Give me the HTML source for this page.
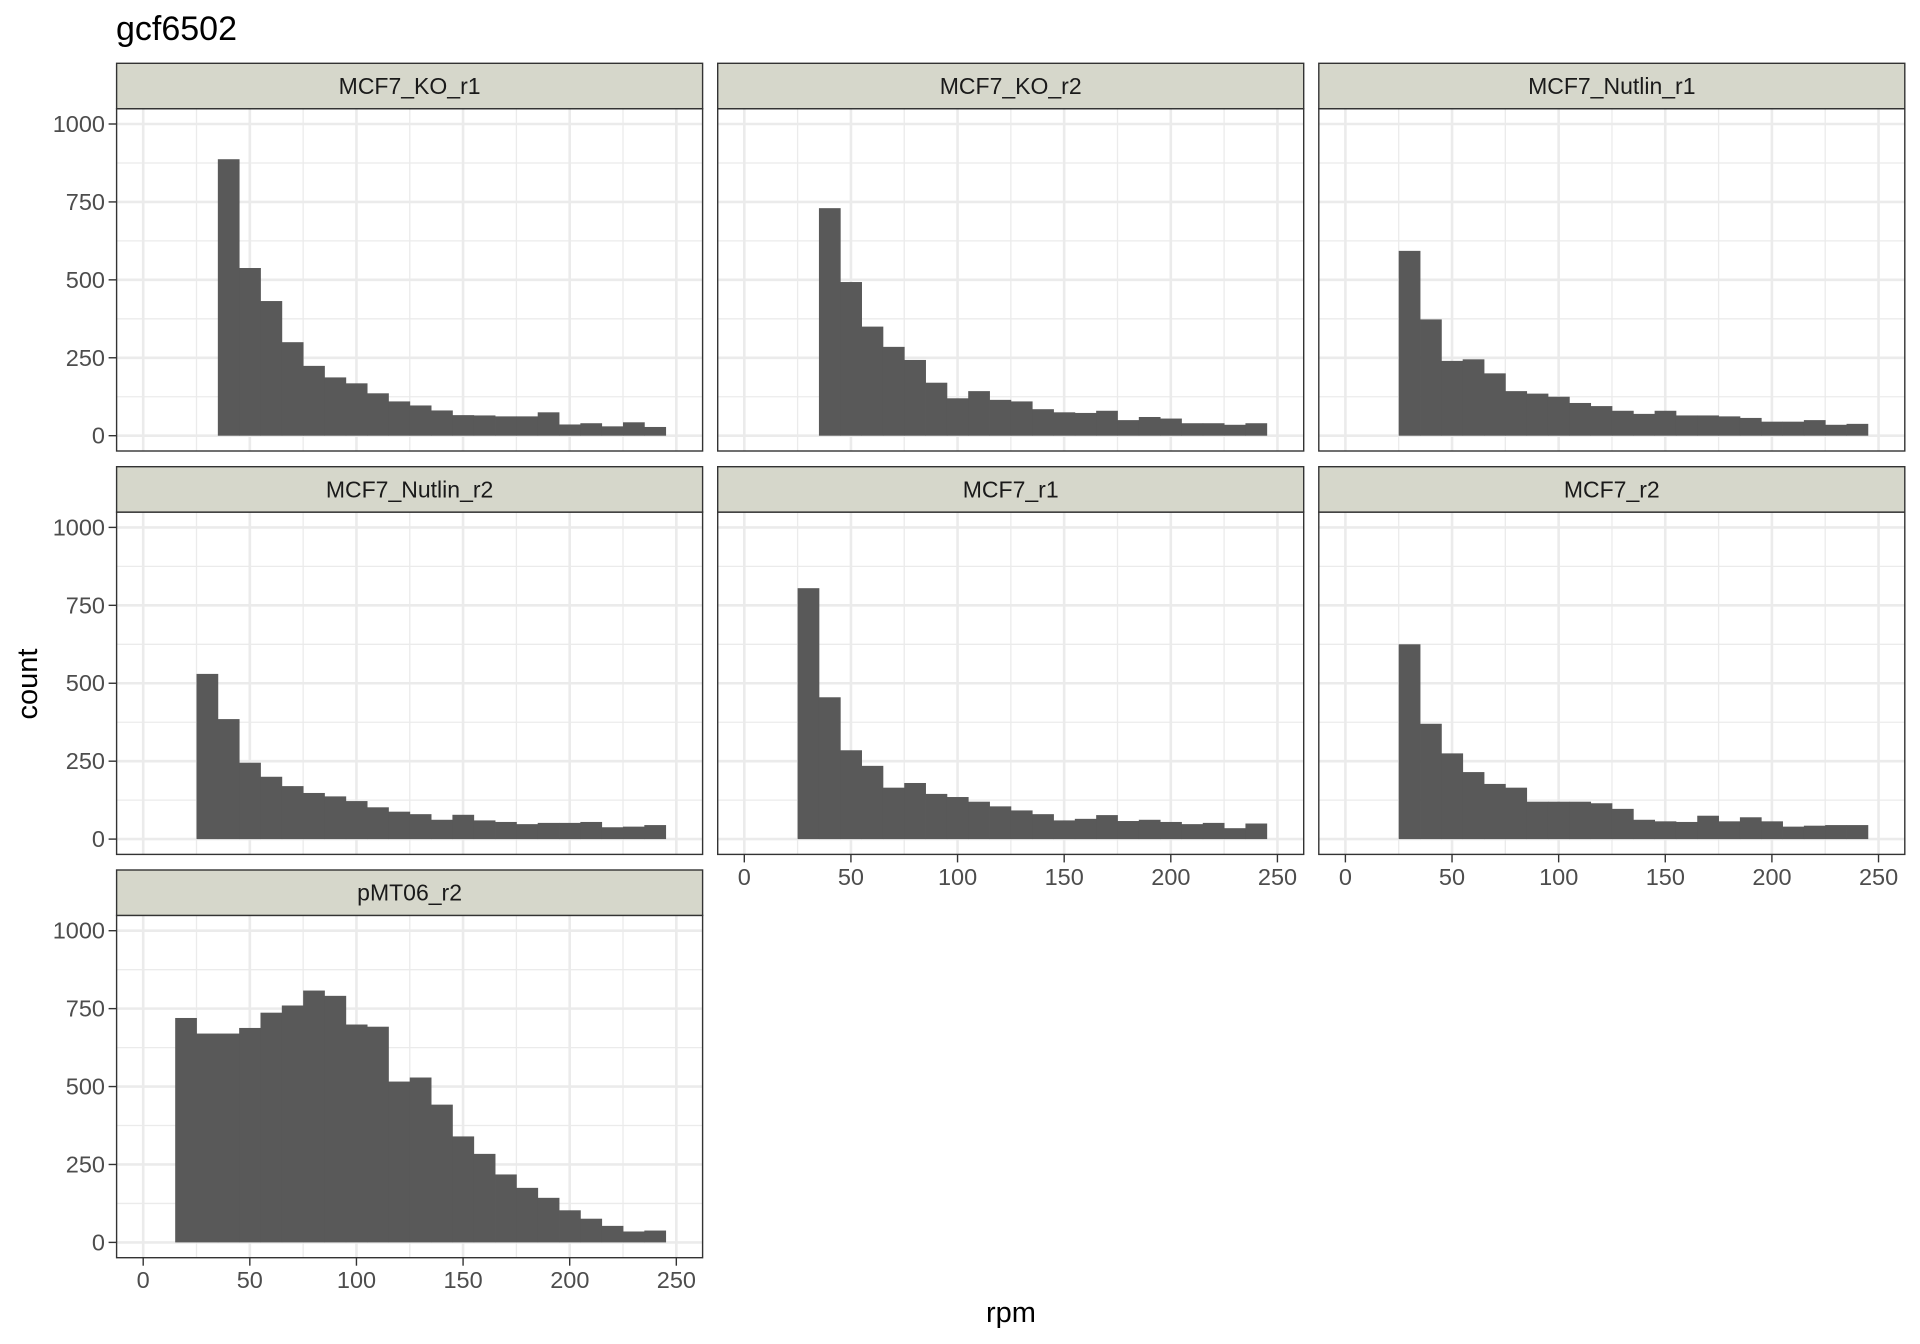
<!DOCTYPE html>
<html><head><meta charset="utf-8"><style>
html,body{margin:0;padding:0;background:#fff;}
svg{display:block;font-family:"Liberation Sans",sans-serif;}
.yl{font-size:23.5px;fill:#4D4D4D;text-anchor:end;dominant-baseline:central;}
.xl{font-size:23.5px;fill:#4D4D4D;text-anchor:middle;}
.st{font-size:23px;fill:#1A1A1A;text-anchor:middle;dominant-baseline:central;}
</style></head><body>
<svg id="s" width="1920" height="1344" viewBox="0 0 1920 1344" xmlns="http://www.w3.org/2000/svg">
<g id="g"></g>
<text x="116" y="40" font-size="34" fill="#000">gcf6502</text>
<text class="st" x="409.6" y="86">MCF7_KO_r1</text>
<text class="st" x="1010.7" y="86">MCF7_KO_r2</text>
<text class="st" x="1611.8" y="86">MCF7_Nutlin_r1</text>
<text class="st" x="409.6" y="489.4">MCF7_Nutlin_r2</text>
<text class="st" x="1010.7" y="489.4">MCF7_r1</text>
<text class="st" x="1611.8" y="489.4">MCF7_r2</text>
<text class="st" x="409.6" y="892.7">pMT06_r2</text>
<text class="yl" x="105" y="435.7">0</text><text class="yl" x="105" y="357.8">250</text><text class="yl" x="105" y="279.8">500</text><text class="yl" x="105" y="201.9">750</text><text class="yl" x="105" y="124">1000</text>
<text class="yl" x="105" y="839.1">0</text><text class="yl" x="105" y="761.2">250</text><text class="yl" x="105" y="683.2">500</text><text class="yl" x="105" y="605.3">750</text><text class="yl" x="105" y="527.4">1000</text>
<text class="yl" x="105" y="1242.4">0</text><text class="yl" x="105" y="1164.5">250</text><text class="yl" x="105" y="1086.5">500</text><text class="yl" x="105" y="1008.6">750</text><text class="yl" x="105" y="930.7">1000</text>
<text class="xl" x="143.2" y="1288">0</text><text class="xl" x="249.8" y="1288">50</text><text class="xl" x="356.5" y="1288">100</text><text class="xl" x="463.1" y="1288">150</text><text class="xl" x="569.8" y="1288">200</text><text class="xl" x="676.4" y="1288">250</text>
<text class="xl" x="744.3" y="885">0</text><text class="xl" x="850.9" y="885">50</text><text class="xl" x="957.6" y="885">100</text><text class="xl" x="1064.2" y="885">150</text><text class="xl" x="1170.9" y="885">200</text><text class="xl" x="1277.5" y="885">250</text>
<text class="xl" x="1345.4" y="885">0</text><text class="xl" x="1452" y="885">50</text><text class="xl" x="1558.7" y="885">100</text><text class="xl" x="1665.3" y="885">150</text><text class="xl" x="1772" y="885">200</text><text class="xl" x="1878.6" y="885">250</text>
<text x="1011" y="1322" font-size="29" text-anchor="middle" fill="#000">rpm</text>
<text x="0" y="0" font-size="29" text-anchor="middle" fill="#000" transform="translate(37,684) rotate(-90)">count</text>
</svg>
<script>
var g=document.getElementById('g'),NS='http://www.w3.org/2000/svg';
function el(t,a){var e=document.createElementNS(NS,t);for(var k in a)e.setAttribute(k,a[k]);g.appendChild(e);return e;}
var P=[
[116.6,63.3,35,[887,538,432,300,224,187,168,136,110,97,81,66,65,62,62,75,36,40,30,43,28],0,1],
[717.7,63.3,35,[730,493,350,285,243,170,120,143,115,110,85,75,73,80,50,60,55,40,40,35,40],0,0],
[1318.8,63.3,25,[593,373,240,245,200,143,135,125,105,95,80,70,80,65,65,62,57,45,45,50,35,38],0,0],
[116.6,466.7,25,[530,385,245,200,170,148,137,122,102,88,80,62,78,60,55,48,52,52,55,38,40,45],0,1],
[717.7,466.7,25,[805,455,285,235,165,180,145,135,120,105,92,80,60,65,77,58,62,55,48,52,35,50],1,0],
[1318.8,466.7,25,[625,370,275,215,177,165,120,120,120,115,97,62,57,55,75,57,70,57,40,43,45,45],1,0],
[116.6,870,15,[720,670,670,688,737,760,808,791,699,692,516,529,442,340,284,218,175,143,103,76,53,35,38],1,1]];
P.forEach(function(p){
 var px=p[0],py=p[1],W=586,top=py+45.4,bot=py+387.7,X=function(v){return px+26.6+v*2.1325},Y=function(v){return py+372.4-v*0.3117};
 el('rect',{x:px,y:top,width:W,height:bot-top,fill:'#fff'});
 for(var v=125;v<1100;v+=250)el('line',{x1:px,x2:px+W,y1:Y(v),y2:Y(v),stroke:'#EBEBEB','stroke-width':1.3});
 for(var v=25;v<260;v+=50)el('line',{x1:X(v),x2:X(v),y1:top,y2:bot,stroke:'#EBEBEB','stroke-width':1.3});
 for(var v=0;v<=1000;v+=250)el('line',{x1:px,x2:px+W,y1:Y(v),y2:Y(v),stroke:'#EBEBEB','stroke-width':2.6});
 for(var v=0;v<=250;v+=50)el('line',{x1:X(v),x2:X(v),y1:top,y2:bot,stroke:'#EBEBEB','stroke-width':2.6});
 var s=p[2];p[3].forEach(function(h,i){var x0=X(s+10*i),x1=X(s+10*i+10);el('rect',{x:x0,y:Y(h),width:x1-x0+0.4,height:Y(0)-Y(h),fill:'#595959'});});
 el('rect',{x:px,y:top,width:W,height:bot-top,fill:'none',stroke:'#333','stroke-width':1.4});
 el('rect',{x:px,y:py,width:W,height:45.4,fill:'#D6D7CB',stroke:'#333','stroke-width':1.4});
 if(p[5])for(var v=0;v<=1000;v+=250)el('line',{x1:px-8,x2:px,y1:Y(v),y2:Y(v),stroke:'#333','stroke-width':1.4});
 if(p[4])for(var v=0;v<=250;v+=50)el('line',{x1:X(v),x2:X(v),y1:bot,y2:bot+8,stroke:'#333','stroke-width':1.4});
});
</script>
</body></html>
